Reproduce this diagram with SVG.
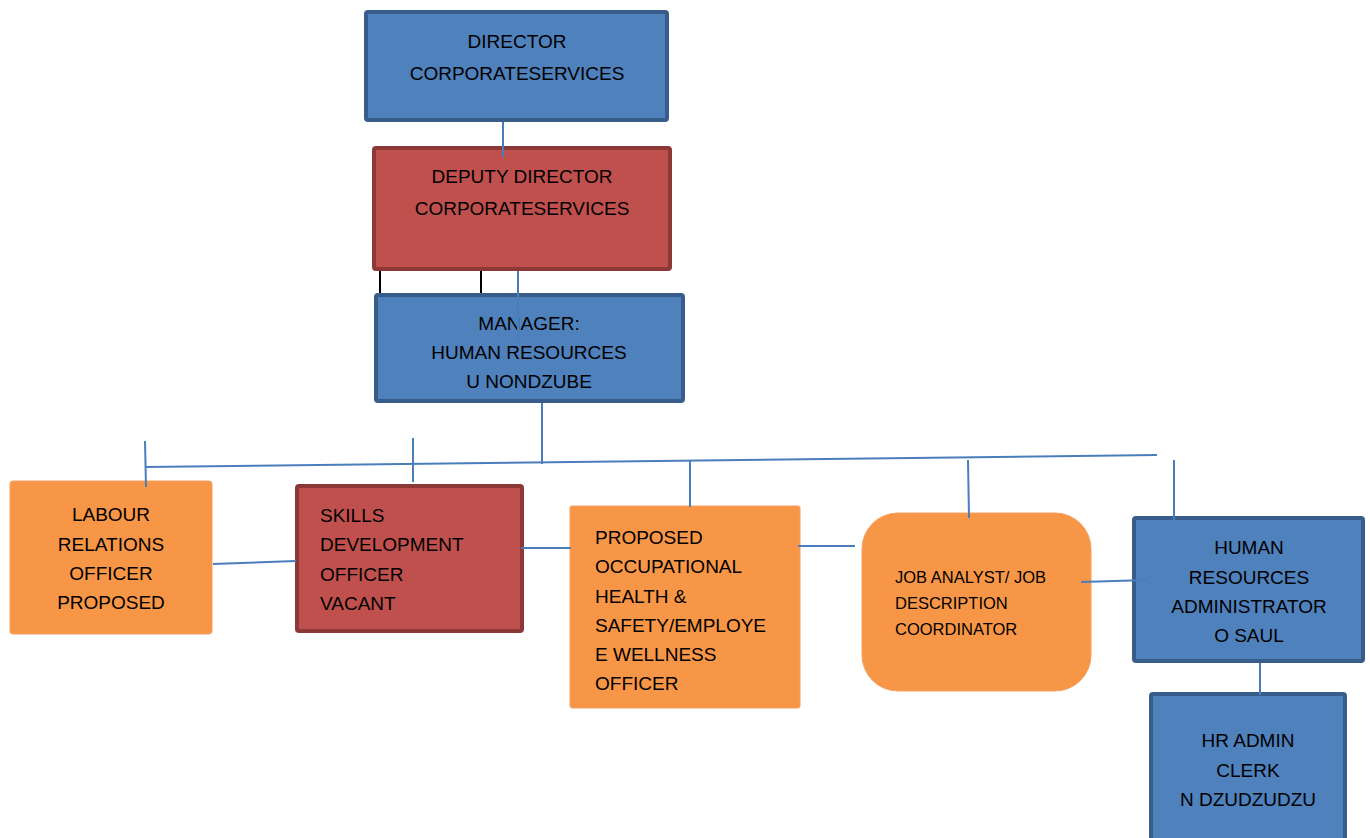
<svg xmlns="http://www.w3.org/2000/svg" width="1370" height="838" viewBox="0 0 1370 838">
<style>
.blue{fill:#4f81bd;stroke:#385d8a;stroke-width:4}
.red{fill:#c0504d;stroke:#8c3836;stroke-width:4}
.orange{fill:#f79646;stroke:#f5a060;stroke-width:1}
.t{font-family:"Liberation Sans",Arial,sans-serif;font-size:19px;fill:#000}
.c{text-anchor:middle}
.s{font-size:16.5px}
.ln{stroke:#4a7ebb;stroke-width:2;fill:none}
.blk{stroke:#000;stroke-width:2;fill:none}
</style>
<rect width="1370" height="838" fill="#fff"/>
<g id="director">
<rect class="blue" x="366" y="12" width="301" height="108" rx="2"/>
<text class="t c" x="517" y="48">DIRECTOR</text>
<text class="t c" x="517" y="80">CORPORATESERVICES</text>
</g>
<g id="deputy">
<rect class="red" x="374" y="148" width="296" height="121" rx="2"/>
<text class="t c" x="522" y="183">DEPUTY DIRECTOR</text>
<text class="t c" x="522" y="215">CORPORATESERVICES</text>
</g>
<g id="manager">
<rect class="blue" x="376" y="295" width="307" height="106" rx="2"/>
<text class="t c" x="529" y="330">MANAGER:</text>
<text class="t c" x="529" y="359">HUMAN RESOURCES</text>
<text class="t c" x="529" y="388">U NONDZUBE</text>
</g>
<g id="labour">
<rect class="orange" x="10" y="481" width="202" height="153" rx="3"/>
<text class="t c" x="111" y="521">LABOUR</text>
<text class="t c" x="111" y="551">RELATIONS</text>
<text class="t c" x="111" y="580">OFFICER</text>
<text class="t c" x="111" y="609">PROPOSED</text>
</g>
<g id="skills">
<rect class="red" x="297" y="486" width="225" height="145" rx="2"/>
<text class="t" x="320" y="522">SKILLS</text>
<text class="t" x="320" y="551">DEVELOPMENT</text>
<text class="t" x="320" y="581">OFFICER</text>
<text class="t" x="320" y="610">VACANT</text>
</g>
<g id="ohs">
<rect class="orange" x="570" y="506" width="230" height="202" rx="2"/>
<text class="t" x="595" y="544">PROPOSED</text>
<text class="t" x="595" y="573">OCCUPATIONAL</text>
<text class="t" x="595" y="603">HEALTH &amp;</text>
<text class="t" x="595" y="632">SAFETY/EMPLOYE</text>
<text class="t" x="595" y="661">E WELLNESS</text>
<text class="t" x="595" y="690">OFFICER</text>
</g>
<g id="jobanalyst">
<rect class="orange" x="862" y="513" width="229" height="178" rx="36"/>
<text class="t s" x="895" y="583">JOB ANALYST/ JOB</text>
<text class="t s" x="895" y="609">DESCRIPTION</text>
<text class="t s" x="895" y="635">COORDINATOR</text>
</g>
<g id="hradmin">
<rect class="blue" x="1134" y="518" width="229" height="143" rx="2"/>
<text class="t c" x="1249" y="554">HUMAN</text>
<text class="t c" x="1249" y="584">RESOURCES</text>
<text class="t c" x="1249" y="613">ADMINISTRATOR</text>
<text class="t c" x="1249" y="642">O SAUL</text>
</g>
<g id="hrclerk">
<rect class="blue" x="1151" y="694" width="194" height="160" rx="2"/>
<text class="t c" x="1248" y="747">HR ADMIN</text>
<text class="t c" x="1248" y="777">CLERK</text>
<text class="t c" x="1248" y="806">N DZUDZUDZU</text>
</g>
<g id="connectors">
<line class="ln" x1="503" y1="122" x2="503" y2="157"/>
<line class="blk" x1="380" y1="271" x2="380" y2="293"/>
<line class="blk" x1="481" y1="271" x2="481" y2="293"/>
<line class="ln" x1="518" y1="271" x2="518" y2="342"/>
<line class="ln" x1="542" y1="403" x2="542" y2="464"/>
<line class="ln" x1="145" y1="467" x2="1157" y2="455"/>
<line class="ln" x1="145" y1="441" x2="146" y2="487"/>
<line class="ln" x1="413" y1="438" x2="413" y2="482"/>
<line class="ln" x1="690" y1="460" x2="690" y2="507"/>
<line class="ln" x1="968" y1="460" x2="969" y2="518"/>
<line class="ln" x1="1174" y1="460" x2="1174" y2="520"/>
<line class="ln" x1="213" y1="564" x2="296" y2="561"/>
<line class="ln" x1="521" y1="548" x2="571" y2="548"/>
<line class="ln" x1="798" y1="546" x2="855" y2="546"/>
<line class="ln" x1="1081" y1="582" x2="1148" y2="580"/>
<line class="ln" x1="1260" y1="663" x2="1260" y2="695"/>
</g>
</svg>
